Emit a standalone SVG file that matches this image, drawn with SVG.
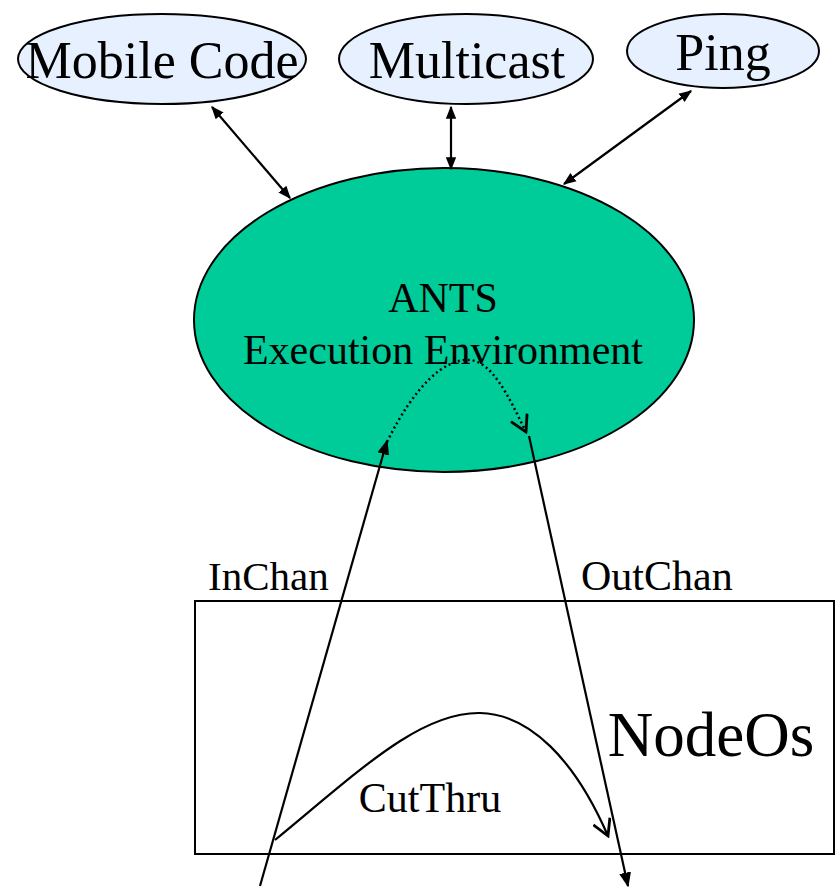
<svg xmlns="http://www.w3.org/2000/svg" width="839" height="889" viewBox="0 0 839 889">
<style>
text{font-family:"Liberation Serif","Times New Roman",serif;fill:#000}
.small{fill:#E6F0FF;stroke:#000;stroke-width:2}
.ln{fill:none;stroke:#000;stroke-width:2.2}
</style>
<defs>
<marker id="ah" viewBox="0 0 10 10" refX="9" refY="5" markerWidth="13" markerHeight="13" markerUnits="userSpaceOnUse" orient="auto-start-reverse">
<path d="M0,1 L10,5 L0,9 z" fill="#000"/>
</marker>
<marker id="big" viewBox="0 0 10 10" refX="9" refY="5" markerWidth="15" markerHeight="15" markerUnits="userSpaceOnUse" orient="auto">
<path d="M0,1 L10,5 L0,9 z" fill="#000"/>
</marker>
<marker id="open" viewBox="0 0 10 10" refX="9" refY="5" markerWidth="20" markerHeight="20" markerUnits="userSpaceOnUse" orient="auto">
<path d="M1,0.5 L9,5 L1,9.5" fill="none" stroke="#000" stroke-width="1.4"/>
</marker>
</defs>
<g id="mobile-code">
<ellipse class="small" cx="162" cy="59" rx="144" ry="45"/>
<text x="162" y="78" font-size="52" text-anchor="middle">Mobile Code</text>
</g>
<g id="multicast">
<ellipse class="small" cx="466" cy="59" rx="127" ry="45"/>
<text x="467" y="78" font-size="52" text-anchor="middle">Multicast</text>
</g>
<g id="ping">
<ellipse class="small" cx="723" cy="51" rx="96" ry="37"/>
<text x="723" y="70" font-size="52" text-anchor="middle">Ping</text>
</g>
<g id="ants">
<ellipse cx="444" cy="320" rx="250" ry="152" fill="#00CC99" stroke="#000" stroke-width="2"/>
<text x="443" y="312" font-size="42" text-anchor="middle">ANTS</text>
<text x="443" y="364" font-size="42" text-anchor="middle">Execution Environment</text>
</g>
<g id="nodeos">
<rect x="195" y="601" width="639" height="253" fill="none" stroke="#000" stroke-width="2"/>
<text x="711" y="756" font-size="63" text-anchor="middle">NodeOs</text>
</g>
<g id="labels">
<text x="208" y="590" font-size="41">InChan</text>
<text x="581" y="590" font-size="42">OutChan</text>
<text x="430" y="812" font-size="42" text-anchor="middle">CutThru</text>
</g>
<g id="connectors">
<line class="ln" x1="212" y1="107" x2="290" y2="198" marker-start="url(#ah)" marker-end="url(#ah)"/>
<line class="ln" x1="451" y1="107" x2="451" y2="169" marker-start="url(#ah)" marker-end="url(#ah)"/>
<line class="ln" x1="691" y1="91" x2="564" y2="184" marker-start="url(#ah)" marker-end="url(#ah)"/>
<line class="ln" x1="260" y1="886" x2="387" y2="441" marker-end="url(#big)"/>
<path d="M387,442 C415,385 445,358 470,360 C492,362 508,395 526,432" fill="none" stroke="#000" stroke-width="2.5" stroke-dasharray="2,3" marker-end="url(#open)"/>
<line class="ln" x1="529" y1="436" x2="628" y2="886" marker-end="url(#big)"/>
<path d="M275,840 C360,770 420,712 480,713 C530,714 575,760 608,836" class="ln" marker-end="url(#open)"/>
</g>
</svg>
